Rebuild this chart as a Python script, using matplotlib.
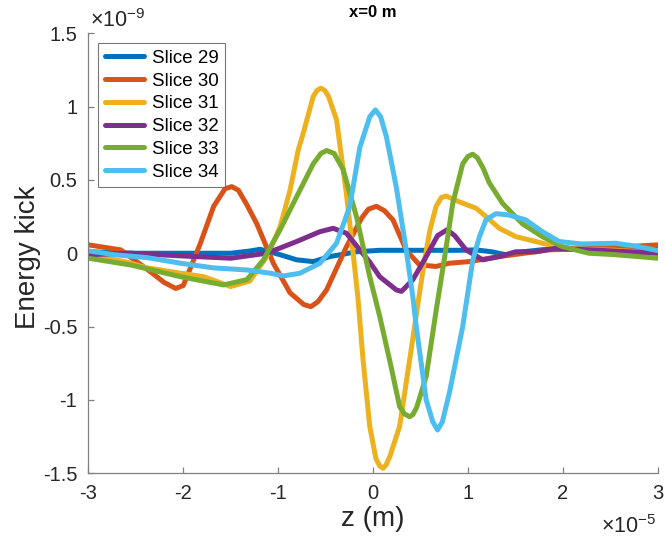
import numpy as np
import matplotlib
matplotlib.use("Agg")
import matplotlib.pyplot as plt

plt.rcParams['font.family'] = ['Liberation Sans', 'DejaVu Sans']
plt.rcParams['mathtext.fontset'] = 'custom'
plt.rcParams['mathtext.rm'] = 'Liberation Sans'
plt.rcParams['mathtext.it'] = 'Liberation Sans:italic'

# z in units of 1e-5 m, energy kick in units of 1e-9
z29 = [-3.0, -2.5, -2.03, -1.5, -1.3, -1.19, -0.98, -0.805, -0.63, -0.455, -0.175,
       0.07, 0.3, 0.6, 0.9, 1.08, 1.25, 1.4, 1.58, 1.8, 2.2, 2.6, 3.0]
e29 = [0.01, 0.0, 0.0, 0.0, 0.015, 0.027, -0.01, -0.045, -0.057, -0.023, 0.01,
       0.02, 0.02, 0.02, 0.02, 0.023, 0.01, -0.01, 0.01, 0.025, 0.03, 0.03, 0.03]

z30 = [-3.0, -2.66, -2.38, -2.2, -2.08, -2.0, -1.82, -1.68, -1.56, -1.49, -1.42,
       -1.33, -1.225, -1.05, -0.875, -0.73, -0.655, -0.58, -0.49, -0.28, -0.12, -0.05,
       0.035, 0.12, 0.21, 0.35, 0.49, 0.665, 0.805, 1.015, 1.33, 1.855, 2.38, 3.0]
e30 = [0.057, 0.023, -0.11, -0.2, -0.24, -0.22, 0.068, 0.32, 0.44, 0.454, 0.43,
       0.33, 0.2, -0.07, -0.27, -0.35, -0.364, -0.33, -0.25, 0.045, 0.24, 0.3,
       0.32, 0.29, 0.227, 0.02, -0.08, -0.09, -0.068, -0.057, -0.023, 0.023, 0.034, 0.057]

z31 = [-3.0, -2.6, -2.38, -2.03, -1.785, -1.5, -1.3, -1.12, -0.98, -0.875, -0.79,
       -0.735, -0.63, -0.59, -0.55, -0.51, -0.47, -0.385, -0.28, -0.21, -0.16, -0.105,
       -0.035, 0.03, 0.07, 0.105, 0.14, 0.18, 0.28, 0.385, 0.49, 0.54, 0.6, 0.665, 0.72,
       0.77, 0.91, 1.085, 1.19, 1.33, 1.505, 1.715, 1.925, 2.2, 2.55, 3.0]
e31 = [-0.01, -0.06, -0.1, -0.136, -0.16, -0.227, -0.19, -0.023, 0.18, 0.43, 0.7,
       0.82, 1.07, 1.11, 1.125, 1.11, 1.07, 0.91, 0.4, 0.0, -0.3, -0.73,
       -1.18, -1.4, -1.45, -1.466, -1.44, -1.38, -1.18, -0.73, -0.27, -0.06, 0.16, 0.32, 0.38,
       0.39, 0.35, 0.307, 0.25, 0.17, 0.113, 0.08, 0.045, 0.027, 0.02, 0.0]

z32 = [-3.0, -2.555, -2.03, -1.5, -1.12, -0.805, -0.56, -0.42, -0.28, -0.14,
       -0.035, 0.07, 0.245, 0.3, 0.42, 0.56, 0.68, 0.78, 0.86, 0.98, 1.155,
       1.33, 1.505, 1.715, 1.925, 2.38, 3.0]
e32 = [-0.01, 0.0, -0.018, -0.034, 0.0, 0.08, 0.147, 0.17, 0.136, 0.023,
       -0.06, -0.16, -0.25, -0.26, -0.18, -0.023, 0.12, 0.16, 0.12, 0.023, -0.045,
       -0.023, 0.01, 0.01, 0.034, 0.02, 0.0]

z33 = [-3.0, -2.555, -2.03, -1.575, -1.33, -1.155, -0.98, -0.805, -0.63, -0.55, -0.49,
       -0.41, -0.315, -0.175, -0.035, 0.07, 0.175, 0.28, 0.33, 0.385, 0.42, 0.46, 0.56,
       0.665, 0.75, 0.84, 0.945, 1.0, 1.05, 1.1, 1.16, 1.225, 1.365, 1.575, 1.785, 1.995,
       2.275, 2.555, 3.0]
e33 = [-0.034, -0.08, -0.16, -0.216, -0.18, -0.045, 0.16, 0.386, 0.61, 0.68, 0.7,
       0.68, 0.57, 0.25, -0.16, -0.43, -0.73, -1.045, -1.095, -1.114, -1.1, -1.05, -0.84,
       -0.39, -0.045, 0.34, 0.61, 0.66, 0.675, 0.65, 0.58, 0.48, 0.34, 0.2, 0.113, 0.045,
       0.0, -0.01, -0.034]

z34 = [-3.0, -2.73, -2.38, -2.03, -1.68, -1.33, -1.085, -0.945, -0.77, -0.56,
       -0.385, -0.245, -0.14, -0.035, 0.025, 0.08, 0.14, 0.245, 0.35, 0.42, 0.455, 0.56,
       0.63, 0.68, 0.73, 0.805, 0.945, 1.05, 1.12, 1.19, 1.295, 1.435, 1.61, 1.785, 1.96,
       2.2, 2.555, 2.8, 3.0]
e34 = [0.016, -0.01, -0.03, -0.068, -0.1, -0.114, -0.136, -0.155, -0.136, -0.068,
       0.068, 0.32, 0.72, 0.93, 0.977, 0.93, 0.795, 0.45, 0.02, -0.3, -0.5, -1.0,
       -1.15, -1.205, -1.15, -0.95, -0.5, -0.05, 0.11, 0.227, 0.27, 0.26, 0.227, 0.147, 0.08,
       0.063, 0.068, 0.045, 0.018]

labels = ['Slice 29', 'Slice 30', 'Slice 31', 'Slice 32', 'Slice 33', 'Slice 34']
colors = ['#0072BD', '#D95319', '#EDB120', '#7E2F8E', '#77AC30', '#4DBEEE']
series = [(z29, e29), (z30, e30), (z31, e31), (z32, e32), (z33, e33), (z34, e34)]

xticks = [-3, -2, -1, 0, 1, 2, 3]
yticks = [-1.5, -1, -0.5, 0, 0.5, 1, 1.5]
yticklabels = ['-1.5', '-1', '-0.5', '0', '0.5', '1', '1.5']

fig = plt.figure(figsize=(6.65, 5.44), dpi=100)
ax = fig.add_axes([0.133, 0.13, 0.856, 0.809])

for (z, e), lab, col in zip(series, labels, colors):
    ax.plot(z, e, color=col, lw=3.6, label=lab, solid_joinstyle='round', solid_capstyle='round')

ax.set_xlim(-3, 3)
ax.set_ylim(-1.5, 1.5)
ax.set_xticks(xticks)
ax.set_xticklabels([str(t) for t in xticks])
ax.set_yticks(yticks)
ax.set_yticklabels(yticklabels)

for s in ['top', 'right']:
    ax.spines[s].set_visible(False)
for s in ['left', 'bottom']:
    ax.spines[s].set_color('#808080')
    ax.spines[s].set_linewidth(0.9)
ax.tick_params(direction='in', length=4, width=0.9, color='#808080',
               labelsize=14.5, labelcolor='#262626', pad=8)

ax.set_title('x=0 m', fontsize=12, fontweight='bold', pad=12)
ax.set_xlabel('z (m)', fontsize=20, color='#262626')
ax.set_ylabel('Energy kick', fontsize=20, color='#262626')
ax.xaxis.set_label_coords(0.5, -0.075)
ax.xaxis.label.set_va('top')
ax.yaxis.set_label_coords(-0.084, 0.49)

ax.text(0.003, 1.015, r'$\times10^{-9}$', transform=ax.transAxes, fontsize=15.5,
        color='#262626', ha='left', va='baseline')
ax.text(0.998, -0.136, r'$\times10^{-5}$', transform=ax.transAxes, fontsize=15.5,
        color='#262626', ha='right', va='baseline')

leg = ax.legend(loc='upper left', bbox_to_anchor=(0.0172, 0.977), fontsize=13.5,
                frameon=True, fancybox=False, edgecolor='#555555',
                handlelength=2.1, handletextpad=0.4, labelspacing=0.3,
                borderpad=0.35, borderaxespad=0.0)
leg.get_frame().set_linewidth(0.8)
for t in leg.get_texts():
    t.set_color('#000000')

fig.savefig('out.png', dpi=100)
